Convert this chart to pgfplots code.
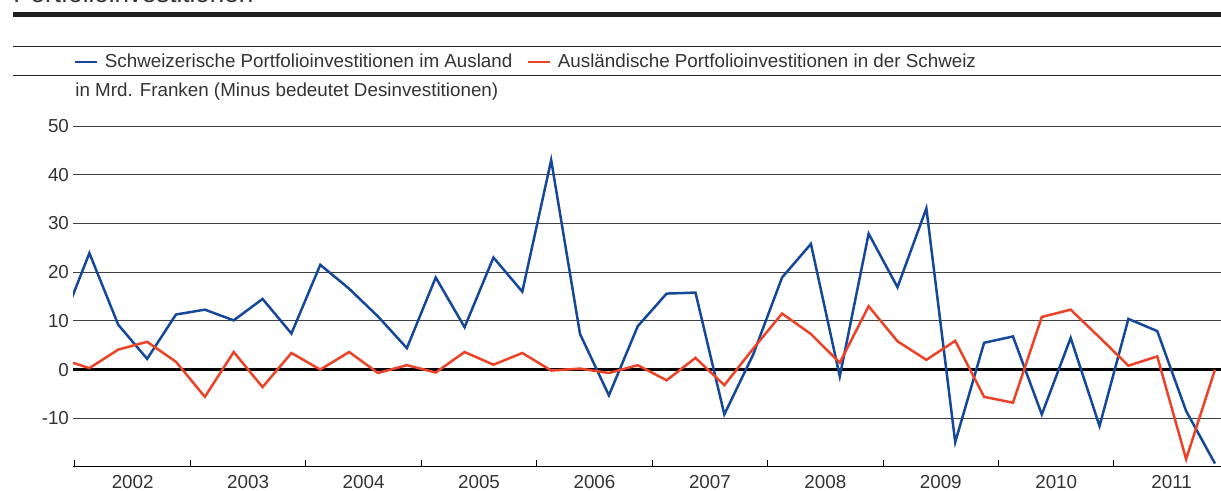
\documentclass[border=0pt]{standalone}
\usepackage{fontspec}
\setmainfont{Liberation Sans}
\usepackage{pgfplots}
\pgfplotsset{compat=1.18}
\definecolor{snbblue}{HTML}{16489A}
\definecolor{snbred}{HTML}{EC4328}
\definecolor{txt}{HTML}{333333}

\pgfplotstableread{
x        y
2001.875  8.8
2002.125 23.9
2002.375  9.2
2002.625  2.2
2002.875 11.3
2003.125 12.3
2003.375 10.1
2003.625 14.5
2003.875  7.4
2004.125 21.5
2004.375 16.6
2004.625 10.9
2004.875  4.4
2005.125 18.9
2005.375  8.7
2005.625 23.0
2005.875 16.0
2006.125 43.0
2006.375  7.3
2006.625 -5.3
2006.875  8.9
2007.125 15.6
2007.375 15.8
2007.625 -9.2
2007.875  3.1
2008.125 18.9
2008.375 25.8
2008.625 -1.4
2008.875 27.9
2009.125 16.9
2009.375 33.1
2009.625 -14.9
2009.875  5.5
2010.125  6.8
2010.375 -9.2
2010.625  6.5
2010.875 -11.6
2011.125 10.4
2011.375  7.9
2011.625 -8.5
2011.875 -19.3
}\ausland

\pgfplotstableread{
x        y
2001.875  2.2
2002.125  0.3
2002.375  4.1
2002.625  5.7
2002.875  1.6
2003.125 -5.6
2003.375  3.6
2003.625 -3.6
2003.875  3.4
2004.125  0.0
2004.375  3.6
2004.625 -0.7
2004.875  0.9
2005.125 -0.6
2005.375  3.6
2005.625  1.0
2005.875  3.4
2006.125 -0.2
2006.375  0.2
2006.625 -0.7
2006.875  0.9
2007.125 -2.2
2007.375  2.4
2007.625 -3.2
2007.875  4.3
2008.125 11.5
2008.375  7.3
2008.625  1.4
2008.875 13.0
2009.125  5.8
2009.375  2.0
2009.625  5.9
2009.875 -5.6
2010.125 -6.8
2010.375 10.8
2010.625 12.3
2010.875  6.6
2011.125  0.8
2011.375  2.7
2011.625 -18.4
2011.875  0.0
}\schweiz

\begin{document}
\begin{tikzpicture}[x=0.5pt,y=0.5pt]
\useasboundingbox (0,0) rectangle (1221,491);
% header, title mostly cut off at the top edge
\node[anchor=base west, inner sep=0pt, font=\fontsize{13}{15}\selectfont, text=txt] at (13,488) {Portfolioinvestitionen};
\fill[black!88] (13,474.3) rectangle (1221,479.3);
\draw[black!85, line width=0.5pt] (13,444) -- (1221,444);
\draw[black!85, line width=0.5pt] (13,415) -- (1221,415);
\node[anchor=west, inner sep=0pt, font=\fontsize{9.4}{11}\selectfont, text=txt] at (75,399) {in Mrd. Franken (Minus bedeutet Desinvestitionen)};

\begin{axis}[
  at={(36.5pt,12pt)}, anchor=south west,
  scale only axis, width=574pt, height=170.5pt,
  xmin=2001.983, xmax=2011.927, ymin=-20, ymax=50,
  axis lines=left, axis line style={-, black, line width=0.5pt},
  y axis line style={draw=none},
  tick align=inside,
  ytick={-10,0,10,20,30,40,50},
  yticklabels={-10,0,10,20,30,40,50},
  ytick style={draw=none},
  yticklabel style={xshift=1.5pt},
  ymajorgrids, grid style={black!75, line width=0.5pt},
  xtick={2002,2003,...,2011}, xticklabels={},
  x tick style={black, line width=0.5pt}, major tick length=3.5pt,
  extra x ticks={2002.5,2003.5,...,2011.5},
  extra x tick labels={2002,2003,2004,2005,2006,2007,2008,2009,2010,2011},
  extra x tick style={major tick length=0pt, xmajorgrids=false,
    xticklabel style={yshift=-0.5pt}},
  extra y ticks={0}, extra y tick labels={},
  extra y tick style={grid style={black, line width=1.4pt}},
  tick label style={font=\fontsize{9.4}{11}\selectfont, text=txt},
  legend columns=2,
  legend style={at={(axis description cs:0,1.188)}, anchor=west,
    draw=none, fill=none, inner sep=0pt,
    font=\fontsize{9.4}{11}\selectfont, text=txt,
    /tikz/every even column/.append style={column sep=5pt}},
  legend cell align=left,
  legend image code/.code={\draw[#1] (0pt,0pt) -- (11pt,0pt); \path (12.5pt,0pt);},
]
\addplot[snbblue, line width=1.25pt] table[x=x, y=y] {\ausland};
\addlegendentry{Schweizerische Portfolioinvestitionen im Ausland}
\addplot[snbred, line width=1.25pt] table[x=x, y=y] {\schweiz};
\addlegendentry{Ausländische Portfolioinvestitionen in der Schweiz}
\end{axis}
\end{tikzpicture}
\end{document}
